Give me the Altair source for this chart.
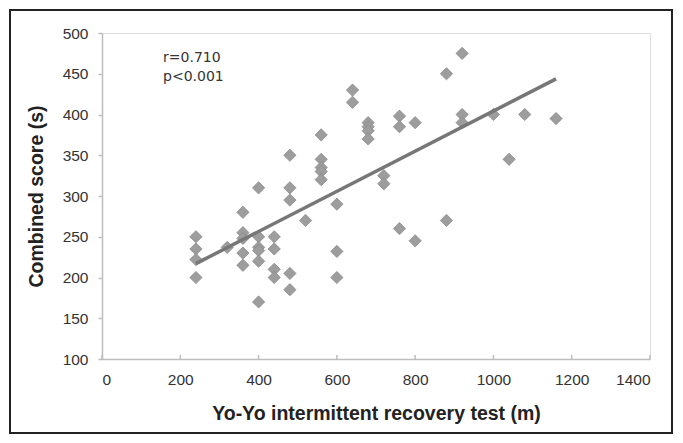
import altair as alt
import pandas as pd

# Data
yoyo = [240, 240, 240, 240,
        320,
        360, 360, 360, 360, 360,
        400, 400, 400, 400, 400, 400,
        440, 440, 440, 440,
        480, 480, 480, 480, 480,
        520,
        560, 560, 560, 560, 560,
        600, 600, 600,
        640, 640,
        680, 680, 680, 680,
        720, 720,
        760, 760, 760,
        800, 800,
        880, 880,
        920, 920, 920,
        1000, 1040, 1080, 1160]
score = [250, 235, 222, 200,
         237,
         280, 255, 248, 230, 215,
         310, 250, 237, 233, 220, 170,
         250, 235, 210, 200,
         350, 310, 295, 205, 185,
         270,
         375, 345, 335, 330, 320,
         290, 232, 200,
         430, 415,
         390, 385, 380, 370,
         325, 315,
         398, 385, 260,
         390, 245,
         450, 270,
         475, 400, 390,
         400, 345, 400, 395]

x_ticks = [0, 200, 400, 600, 800, 1000, 1200, 1400]
y_ticks = [100, 150, 200, 250, 300, 350, 400, 450, 500]
annot_x = [156]
annot_y = [478]
annot_text = [["r=0.710", "p<0.001"]]

df = pd.DataFrame({"yoyo": yoyo, "score": score})
annot = pd.DataFrame({"x": annot_x, "y": annot_y, "t": annot_text})
xt = pd.DataFrame({"t": x_ticks})

W, H = 548, 326
PL, PT, PR, PB = 94, 25, 25, 76
AXC = "#bdbdbd"
FONT = "Liberation Sans"

xs = alt.Scale(domain=[0, 1400], nice=False, zero=False)
ys = alt.Scale(domain=[100, 500], nice=False, zero=False)

xenc = alt.X("yoyo:Q", scale=xs,
             axis=alt.Axis(values=x_ticks, format="d", title="Yo-Yo intermittent recovery test (m)",
                           grid=False, domainColor=AXC, domainWidth=1.5, ticks=False,
                           labelColor="#333333", labelFontSize=15.5,
                           labelPadding=13, titleFontSize=19.5, titleFontWeight="bold",
                           titleColor="#222222", titlePadding=17, labelFont=FONT,
                           titleFont=FONT))
yenc = alt.Y("score:Q", scale=ys,
             axis=alt.Axis(values=y_ticks, format="d", title="Combined score (s)",
                           grid=False, domainColor=AXC, domainWidth=1.5, tickColor=AXC,
                           tickWidth=1.5, tickSize=4, labelColor="#333333", labelFontSize=15.5,
                           labelPadding=10, titleFontSize=19.5, titleFontWeight="bold",
                           titleColor="#222222", titlePadding=16, labelFont=FONT,
                           titleFont=FONT))

xticks = alt.Chart(xt).mark_rule(color=AXC, strokeWidth=1.5).encode(
    x=alt.X("t:Q", scale=xs), y=alt.value(H), y2=alt.value(H - 4))

points = alt.Chart(df).mark_point(shape="diamond", filled=True, size=150,
                                  color="#9d9d9d", stroke="#8a8a8a", strokeWidth=0.8,
                                  opacity=1).encode(x=xenc, y=yenc)

line = alt.Chart(df).transform_regression("yoyo", "score").mark_line(
    color="#777777", strokeWidth=3.5).encode(x=alt.X("yoyo:Q", scale=xs),
                                             y=alt.Y("score:Q", scale=ys))

text = alt.Chart(annot).mark_text(align="left", baseline="top", fontSize=14,
                                  color="#333333", font="DejaVu Sans",
                                  lineHeight=19).encode(
    x=alt.X("x:Q", scale=xs), y=alt.Y("y:Q", scale=ys), text="t")

border = alt.Chart(annot).mark_rect(fill=None, stroke="#222222", strokeWidth=2).encode(
    x=alt.value(-92), x2=alt.value(W + PR - 3), y=alt.value(-PT + 2), y2=alt.value(H + PB - 2))

chart = alt.layer(border, xticks, points, line, text).properties(
    width=W, height=H,
    autosize=alt.AutoSizeParams(type="none"),
    padding={"left": PL, "top": PT, "right": PR, "bottom": PB},
).configure_view(stroke=None).configure(background="white")

chart.save("out.html", embed_options={"renderer": "svg", "actions": False})
